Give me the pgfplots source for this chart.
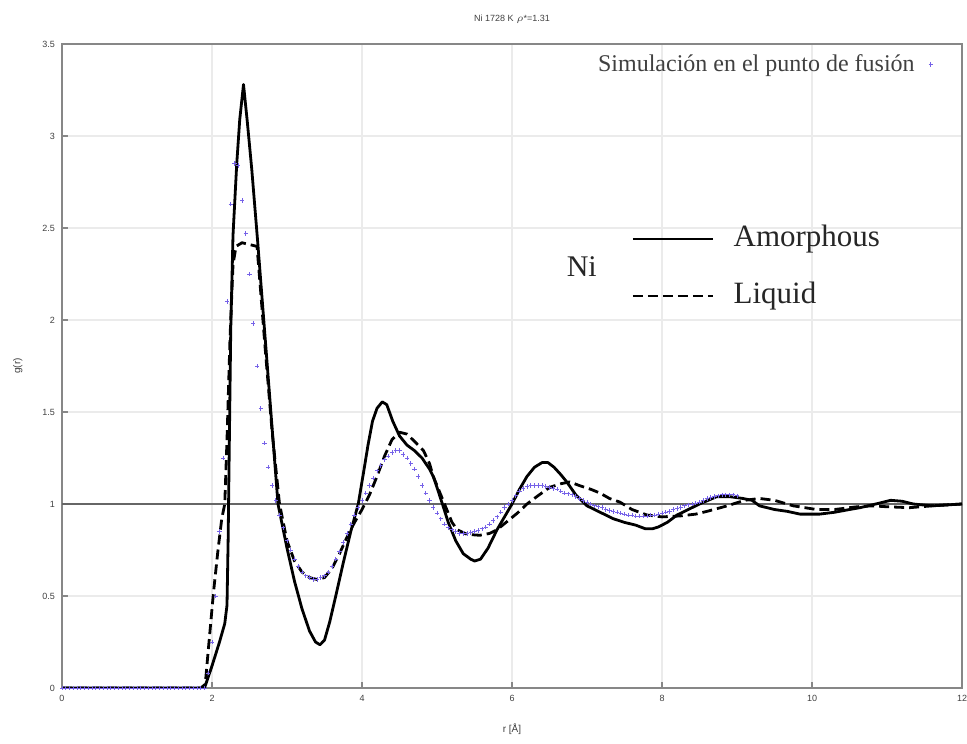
\documentclass[border=0pt]{standalone}
\usepackage{fontspec}
\setmainfont{Liberation Serif}
\newfontfamily\sansf{Liberation Sans}
\usepackage{pgfplots}
\pgfplotsset{compat=1.18}
\definecolor{simc}{RGB}{118,98,232}
\definecolor{framec}{RGB}{135,135,135}

\begin{document}
\begin{tikzpicture}
\begin{axis}[
  scale only axis, width=450pt, height=322pt,
  xmin=0, xmax=12, ymin=0, ymax=3.5,
  xtick={0,2,...,12}, ytick={0,0.5,...,3.5},
  grid=major, major grid style={draw=black!8, line width=0.8pt},
  axis line style={draw=framec, line width=0.9pt},
  tick align=inside, xtick pos=left, ytick pos=left,
  major tick length=3pt, tick style={draw=framec, line width=0.6pt},
  ticklabel style={font=\sansf\fontsize{4.5}{5}\selectfont, text=black!75},
  /pgf/number format/assume math mode=true,
  title={Ni 1728 K $\rho$*=1.31},
  title style={font=\sansf\fontsize{4.5}{5}\selectfont, text=black!75, at={(axis description cs:0.5,1)}, anchor=center, yshift=6.5pt},
  xlabel={r [Å]},
  xlabel style={font=\sansf\fontsize{5}{6}\selectfont, text=black!75, at={(axis description cs:0.5,-0.0637)}, anchor=center},
  ylabel={g(r)},
  ylabel style={font=\sansf\fontsize{5}{6}\selectfont, text=black!75, at={(axis description cs:-0.049,0.5)}, anchor=center},
  legend style={at={(axis description cs:0.975,1.0)}, anchor=north east, draw=none, fill=none,
    font=\fontsize{12}{14}\selectfont, text=black!75, inner sep=3pt},
  legend plot pos=right, legend cell align=right,
]
% reference line g=1
\addplot[forget plot, black!60, line width=0.7pt] coordinates {(0,1) (12,1)};

% simulation (points)
\addplot[only marks, mark=+, mark size=1.1pt, mark options={draw=simc, line width=0.45pt}] coordinates {
(0,0) (0.05,0) (0.1,0) (0.15,0) (0.2,0) (0.25,0) (0.3,0) (0.35,0) (0.4,0) (0.45,0)
(0.5,0) (0.55,0) (0.6,0) (0.65,0) (0.7,0) (0.75,0) (0.8,0) (0.85,0) (0.9,0) (0.95,0)
(1.0,0) (1.05,0) (1.1,0) (1.15,0) (1.2,0) (1.25,0) (1.3,0) (1.35,0) (1.4,0) (1.45,0)
(1.5,0) (1.55,0) (1.6,0) (1.65,0) (1.7,0) (1.75,0) (1.8,0) (1.85,0) (1.9,0)
(1.95,0.08) (2.0,0.25) (2.05,0.5) (2.1,0.85) (2.15,1.25) (2.2,2.1) (2.25,2.63) (2.3,2.85)
(2.35,2.84) (2.4,2.65) (2.45,2.47) (2.5,2.25) (2.55,1.98) (2.6,1.75) (2.65,1.52) (2.7,1.33)
(2.75,1.2) (2.8,1.1) (2.85,1.02) (2.9,0.94) (2.95,0.87) (3.0,0.8) (3.05,0.75) (3.1,0.7)
(3.15,0.66) (3.2,0.63) (3.25,0.61) (3.3,0.6) (3.35,0.59) (3.4,0.59) (3.45,0.6) (3.5,0.61)
(3.55,0.63) (3.6,0.66) (3.65,0.7) (3.7,0.74) (3.75,0.79) (3.8,0.84) (3.85,0.89) (3.9,0.94)
(3.95,0.98) (4.0,1.02) (4.05,1.06) (4.1,1.1) (4.15,1.14) (4.2,1.18) (4.25,1.21) (4.3,1.24)
(4.35,1.26) (4.4,1.28) (4.45,1.29) (4.5,1.29) (4.55,1.27) (4.6,1.25) (4.65,1.22) (4.7,1.19)
(4.75,1.15) (4.8,1.1) (4.85,1.06) (4.9,1.02) (4.95,0.98) (5.0,0.95) (5.05,0.92) (5.1,0.89)
(5.15,0.87) (5.2,0.86) (5.25,0.85) (5.3,0.84) (5.35,0.84) (5.4,0.84) (5.45,0.845) (5.5,0.85)
(5.55,0.855) (5.6,0.865) (5.65,0.875) (5.7,0.89) (5.75,0.91) (5.8,0.93) (5.85,0.955) (5.9,0.98)
(5.95,1.0) (6.0,1.02) (6.05,1.045) (6.1,1.07) (6.15,1.085) (6.2,1.095) (6.25,1.1) (6.3,1.1)
(6.35,1.1) (6.4,1.1) (6.45,1.095) (6.5,1.09) (6.55,1.085) (6.6,1.08) (6.65,1.07) (6.7,1.06)
(6.75,1.055) (6.8,1.05) (6.85,1.04) (6.9,1.03) (6.95,1.02) (7.0,1.01) (7.05,1.0) (7.1,0.99)
(7.15,0.985) (7.2,0.98) (7.25,0.97) (7.3,0.965) (7.35,0.96) (7.4,0.955) (7.45,0.95) (7.5,0.945)
(7.55,0.94) (7.6,0.94) (7.65,0.935) (7.7,0.935) (7.75,0.935) (7.8,0.935) (7.85,0.94) (7.9,0.94)
(7.95,0.945) (8.0,0.95) (8.05,0.955) (8.1,0.96) (8.15,0.97) (8.2,0.975) (8.25,0.98) (8.3,0.99)
(8.35,0.995) (8.4,1.0) (8.45,1.005) (8.5,1.01) (8.55,1.02) (8.6,1.03) (8.65,1.035) (8.7,1.04)
(8.75,1.045) (8.8,1.05) (8.85,1.05) (8.9,1.05) (8.95,1.05) (9.0,1.045)
};
\addlegendentry{Simulación en el punto de fusión\hspace*{5pt}}

% liquid (dashed)
\addplot[forget plot, black, line width=1.4pt, dash pattern=on 5pt off 2.5pt, line join=round] coordinates {
(0,0) (1.85,0) (1.91,0.02) (1.96,0.25) (2.02,0.52) (2.08,0.75) (2.13,0.92) (2.17,1.0)
(2.2,1.35) (2.24,1.9) (2.28,2.3) (2.32,2.4) (2.4,2.42) (2.5,2.41) (2.6,2.4) (2.64,2.2)
(2.71,1.84) (2.8,1.4) (2.9,1.0) (3.0,0.8) (3.1,0.69) (3.2,0.63) (3.3,0.6) (3.4,0.59)
(3.5,0.6) (3.6,0.65) (3.7,0.73) (3.8,0.82) (3.9,0.9) (4.0,0.97) (4.1,1.05) (4.2,1.15)
(4.3,1.26) (4.4,1.35) (4.5,1.39) (4.6,1.38) (4.7,1.34) (4.82,1.29) (4.9,1.22) (4.95,1.15)
(5.05,1.05) (5.13,0.97) (5.2,0.9) (5.27,0.86) (5.4,0.835) (5.57,0.83) (5.7,0.84) (5.8,0.86)
(5.95,0.91) (6.07,0.95) (6.2,1.0) (6.33,1.04) (6.5,1.09) (6.65,1.11) (6.77,1.12) (6.9,1.1)
(7.05,1.08) (7.17,1.06) (7.3,1.03) (7.44,1.01) (7.6,0.97) (7.8,0.94) (8.0,0.93) (8.24,0.935)
(8.45,0.945) (8.6,0.96) (8.87,0.99) (9.1,1.02) (9.3,1.03) (9.5,1.02) (9.75,0.99) (10.06,0.97)
(10.3,0.97) (10.6,0.985) (10.8,0.99) (11.0,0.985) (11.3,0.98) (11.6,0.99) (12,1.0)
};

% amorphous (solid)
\addplot[forget plot, black, line width=1.4pt, line join=round] coordinates {
(0,0) (1.9,0) (2.0,0.12) (2.1,0.25) (2.17,0.35) (2.2,0.45) (2.215,0.8) (2.23,1.3)
(2.25,1.95) (2.28,2.46) (2.33,2.85) (2.37,3.09) (2.42,3.28) (2.47,3.08) (2.53,2.82) (2.61,2.42)
(2.73,1.79) (2.8,1.42) (2.88,1.0) (2.95,0.86) (3.0,0.76) (3.1,0.58) (3.2,0.43) (3.3,0.31)
(3.38,0.25) (3.44,0.235) (3.5,0.26) (3.57,0.36) (3.65,0.5) (3.75,0.68) (3.85,0.85) (3.95,1.0)
(4.02,1.17) (4.08,1.32) (4.14,1.45) (4.2,1.52) (4.27,1.555) (4.33,1.54) (4.41,1.45) (4.5,1.37)
(4.6,1.32) (4.7,1.29) (4.8,1.25) (4.9,1.19) (4.95,1.15) (5.0,1.09) (5.08,0.99) (5.15,0.9)
(5.25,0.8) (5.35,0.73) (5.45,0.7) (5.5,0.69) (5.58,0.7) (5.68,0.76) (5.8,0.86) (5.9,0.93)
(6.0,1.0) (6.1,1.08) (6.2,1.15) (6.3,1.2) (6.4,1.225) (6.48,1.225) (6.56,1.2) (6.65,1.16)
(6.73,1.12) (6.85,1.05) (7.0,0.99) (7.15,0.96) (7.35,0.92) (7.5,0.9) (7.65,0.885) (7.78,0.865)
(7.87,0.865) (7.95,0.875) (8.07,0.9) (8.2,0.94) (8.3,0.96) (8.5,1.0) (8.73,1.04) (8.9,1.04)
(9.08,1.03) (9.2,1.02) (9.3,0.99) (9.5,0.97) (9.67,0.96) (9.84,0.945) (10.1,0.945) (10.3,0.955)
(10.5,0.97) (10.64,0.98) (10.85,1.0) (11.05,1.02) (11.2,1.015) (11.35,1.0) (11.6,0.99) (11.8,0.995)
(12,1.0)
};

% inset legend (Ni: Amorphous / Liquid)
\draw[black, line width=1.4pt] (axis cs:7.61,2.44) -- (axis cs:8.68,2.44);
\draw[black, line width=1.4pt, dash pattern=on 5pt off 2.5pt] (axis cs:7.61,2.13) -- (axis cs:8.68,2.13);
\node[anchor=west, font=\fontsize{15.5}{17}\selectfont, text=black!85, inner sep=0pt] at (axis cs:8.95,2.44) {Amorphous};
\node[anchor=west, font=\fontsize{15.5}{17}\selectfont, text=black!85, inner sep=0pt] at (axis cs:8.95,2.13) {Liquid};
\node[anchor=center, font=\fontsize{15}{17}\selectfont, text=black!85, inner sep=0pt] at (axis cs:6.93,2.29) {Ni};

\coordinate (bl) at (rel axis cs:0,0);
\coordinate (tr) at (rel axis cs:1,1);
\end{axis}
\pgfresetboundingbox
\path[use as bounding box] ([shift={(-31pt,-27.5pt)}]bl) rectangle ([shift={(2.5pt,22pt)}]tr);
\end{tikzpicture}
\end{document}
